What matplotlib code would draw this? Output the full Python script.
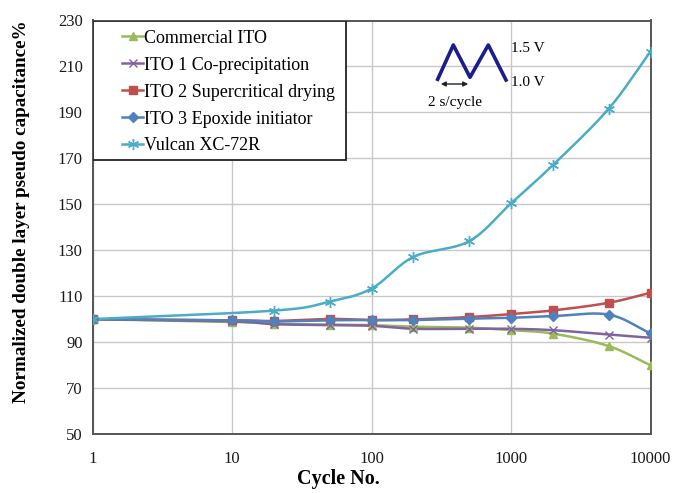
import numpy as np
import matplotlib
matplotlib.use("Agg")
import matplotlib.pyplot as plt
from matplotlib.patches import Rectangle, FancyArrowPatch
from matplotlib.lines import Line2D

# data
cycles = [1, 10, 20, 50, 100, 200, 500, 1000, 2000, 5000, 10000]
commercial_ito = [100, 98.8, 98.0, 97.6, 97.4, 96.7, 96.3, 95.2, 93.7, 88.3, 79.9]
ito1_coprecip = [100, 99.0, 97.8, 97.4, 97.1, 95.8, 95.8, 95.8, 95.2, 93.3, 91.9]
ito2_supercrit = [100, 99.5, 99.2, 100.1, 99.6, 99.9, 100.9, 102.2, 103.8, 107.1, 111.5]
ito3_epoxide = [100, 99.5, 99.0, 99.5, 99.6, 99.6, 100.2, 100.6, 101.3, 102.0, 93.8]
vulcan_cycles = [1, 20, 50, 100, 200, 500, 1000, 2000, 5000, 10000]
vulcan_xc72r = [100, 103.7, 107.6, 113.3, 127.1, 133.9, 150.4, 167.1, 191.5, 216.5]

labels = ["Commercial ITO", "ITO 1 Co-precipitation", "ITO 2 Supercritical drying",
          "ITO 3 Epoxide initiator", "Vulcan XC-72R"]
colors = ["#9BBB59", "#8064A2", "#C0504D", "#4F81BD", "#4BACC6"]
y_ticks = [50, 70, 90, 110, 130, 150, 170, 190, 210, 230]
x_ticks = [1, 10, 100, 1000, 10000]

plt.rcParams['font.family'] = ['Liberation Serif', 'DejaVu Serif']


def smooth(xs, ys, n=30):
    # excel-style smoothed line (catmull-rom in log-x space), only for drawing
    lx = np.log10(xs)
    y = np.asarray(ys, float)
    px = np.concatenate([[2 * lx[0] - lx[1]], lx, [2 * lx[-1] - lx[-2]]])
    py = np.concatenate([[2 * y[0] - y[1]], y, [2 * y[-1] - y[-2]]])
    outx, outy = [], []
    t = np.linspace(0, 1, n)
    for i in range(1, len(px) - 2):
        for arr, out in ((px, outx), (py, outy)):
            p0, p1, p2, p3 = arr[i - 1], arr[i], arr[i + 1], arr[i + 2]
            out.extend(0.5 * ((2 * p1) + (-p0 + p2) * t
                              + (2 * p0 - 5 * p1 + 4 * p2 - p3) * t ** 2
                              + (-p0 + 3 * p1 - 3 * p2 + p3) * t ** 3))
    return 10 ** np.array(outx), np.array(outy)


fig = plt.figure(figsize=(6.73, 4.93), dpi=100)
ax = fig.add_axes([92.5 / 673, 1 - 434 / 493, (650.5 - 92.5) / 673, (434 - 20.5) / 493])

series = [
    (cycles, commercial_ito, '^', 6, 1.0),
    (cycles, ito1_coprecip, 'x', 6, 1.0),
    (cycles, ito2_supercrit, 's', 5.5, 1.0),
    (cycles, ito3_epoxide, 'D', 5.5, 1.0),
    (vulcan_cycles, vulcan_xc72r, (6, 2, 0), 8, 1.0),
]
handles = []
for (xs, ys, mk, ms, mew), lab, c in zip(series, labels, colors):
    sx, sy = smooth(xs, ys)
    ax.plot(sx, sy, color=c, lw=1.8, zorder=3)
    ax.plot(xs, ys, ls='none', marker=mk, ms=ms, color=c, mec=c, mew=mew, zorder=4)
    handles.append(Line2D([], [], color=c, lw=1.8, marker=mk, ms=ms, mec=c, mew=mew))

ax.set_xscale('log')
ax.set_xlim(1, 10000)
ax.set_ylim(50, 230)
ax.set_xticks(x_ticks)
ax.set_xticklabels([str(v) for v in x_ticks])
ax.xaxis.set_minor_locator(matplotlib.ticker.NullLocator())
ax.set_yticks(y_ticks)
ax.grid(True, color='#C8C8C8', lw=1.0)
ax.set_axisbelow(True)
ax.tick_params(length=0, labelsize=12, colors='#1a1a1a')
ax.tick_params(axis='x', pad=12)
ax.tick_params(axis='y', pad=7)
for s in ax.spines.values():
    s.set_color('#555555')
    s.set_linewidth(1.4)

# legend with its own frame
box = Rectangle((0, 1 - (160 - 20.5) / 413.5), (346 - 92.5) / 558, (160 - 20.5) / 413.5,
                transform=ax.transAxes, facecolor='white', edgecolor='#222222', lw=1.3, zorder=5)
ax.add_patch(box)
leg = ax.legend(handles, labels, loc='upper left', bbox_to_anchor=(22 / 558, 1 - 2 / 413.5),
                frameon=False, fontsize=13, handlelength=1.2, handletextpad=0.05,
                labelspacing=0.55, borderaxespad=0.1, borderpad=0.3)
leg.set_zorder(6)

# inset: triangle wave
def fx(p):
    return p / 673


def fy(p):
    return 1 - p / 493


wave_x = [437.7, 453.3, 470, 488.3, 506]
wave_y = [79.3, 45, 77.3, 45, 80]
fig.add_artist(Line2D([fx(v) for v in wave_x], [fy(v) for v in wave_y],
                      color='#1c1c8c', lw=2.6, transform=fig.transFigure, zorder=7))
fig.add_artist(FancyArrowPatch((fx(438), fy(84)), (fx(471), fy(84)), transform=fig.transFigure,
                               arrowstyle='<|-|>', mutation_scale=7, color='#222222', lw=1.0))
fig.text(fx(455), fy(102.5), "2 s/cycle", ha='center', va='center', fontsize=11)
fig.text(fx(511), fy(48), "1.5 V", ha='left', va='center', fontsize=11)
fig.text(fx(511), fy(82.5), "1.0 V", ha='left', va='center', fontsize=11)

fig.text(fx(338), fy(479), "Cycle No.", ha='center', va='center', fontsize=14.5, fontweight='bold')
fig.text(fx(21.5), fy(211.5), "Normalized double layer pseudo capacitance%", ha='center', va='center',
         rotation=90, fontsize=13.8, fontweight='bold')

fig.savefig("out.png", dpi=100)
